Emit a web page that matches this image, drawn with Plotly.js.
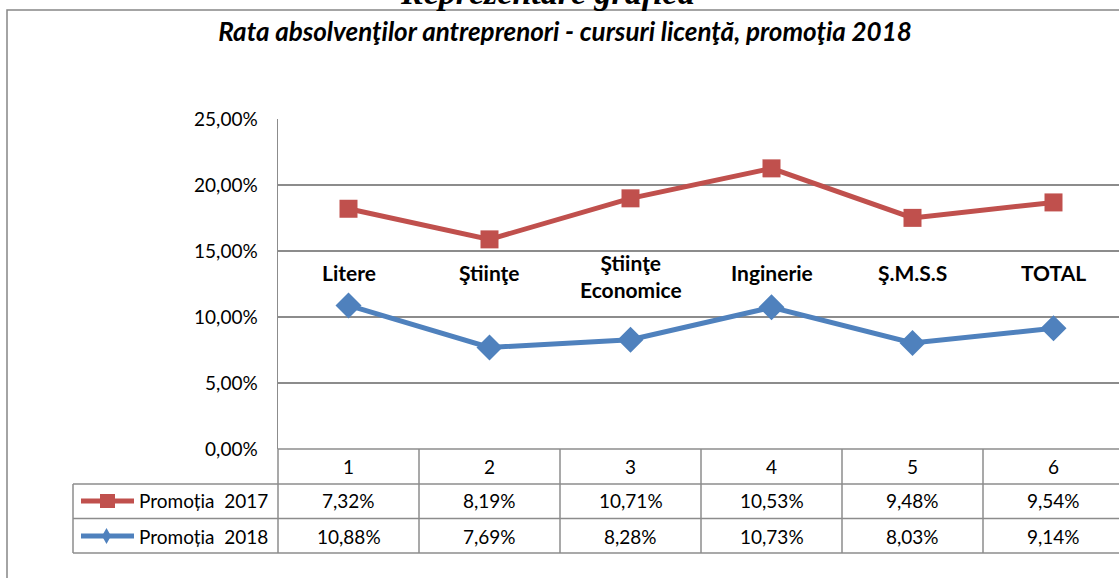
<html lang="ro">
  <head>
    <meta charset="UTF-8" />
    <title>Rata absolventilor antreprenori</title>
    <script src="https://cdn.plot.ly/plotly-3.0.1.min.js"></script>
    <style>
      html, body { margin: 0; padding: 0; overflow: hidden; background: #fff; }
    </style>
  </head>
  <body>
    <div id="chart" style="width: 1126px; height: 578px;"></div>
    <script>
      // data (the line chart is stacked: red = 2018 + 2017)
      const categories = [1, 2, 3, 4, 5, 6];
      const facultati = ['Litere', 'Ştiinţe', 'Ştiinţe<br>Economice', 'Inginerie', 'Ş.M.S.S', 'TOTAL'];
      const promotia2017 = [7.32, 8.19, 10.71, 10.53, 9.48, 9.54];
      const promotia2018 = [10.88, 7.69, 8.28, 10.73, 8.03, 9.14];
      const seriesNames = ['Promoția\u00a0 2017', 'Promoția\u00a0 2018'];
      const yTicks = [0, 5, 10, 15, 20, 25];

      const red = '#C0504D';
      const blue = '#4F81BD';
      const grid = '#8c8c8c';
      const font = 'Lato, "Open Sans", sans-serif';

      // plot area in pixels
      const L = 278, T = 119, W = 846, H = 330;
      const px = x => (x - L) / W;
      const py = y => (T + H - y) / H;

      const fmt = v => v.toFixed(2).replace('.', ',') + '%';

      const traces = [
        {
          x: categories, y: promotia2018, name: seriesNames[1],
          stackgroup: 'one', fill: 'none',
          type: 'scatter', mode: 'lines+markers',
          line: { color: blue, width: 5 },
          marker: { symbol: 'diamond', size: 20, color: blue }
        },
        {
          x: categories, y: promotia2017, name: seriesNames[0],
          stackgroup: 'one', fill: 'none',
          type: 'scatter', mode: 'lines+markers',
          line: { color: red, width: 5 },
          marker: { symbol: 'square', size: 18, color: red }
        }
      ];

      const annotations = [];
      const shapes = [];

      // header cut off at the top
      annotations.push({
        text: '<b><i>Reprezentare grafică</i></b>', xref: 'paper', yref: 'paper',
        x: px(547), y: py(-8), showarrow: false, xanchor: 'center', yanchor: 'middle',
        font: { family: '"Liberation Serif", serif', size: 34, color: '#000' }
      });

      // faculty labels inside the plot
      facultati.forEach((f, i) => {
        annotations.push({
          text: '<b>' + f + '</b>', x: categories[i], y: f.includes('<br>') ? 13.1 : 13.4,
          xref: 'x', yref: 'y',
          showarrow: false, font: { family: font, size: 21, color: '#000' }
        });
      });

      // data table: category row and value rows
      const rowY = [467, 501, 536];
      const cellFont = { family: font, size: 19, color: '#000' };
      categories.forEach((c, i) => {
        annotations.push({ text: String(c), x: c, y: py(rowY[0]), xref: 'x', yref: 'paper',
          yanchor: 'middle', showarrow: false, font: cellFont });
        annotations.push({ text: fmt(promotia2017[i]), x: c, y: py(rowY[1]), xref: 'x', yref: 'paper',
          yanchor: 'middle', showarrow: false, font: cellFont });
        annotations.push({ text: fmt(promotia2018[i]), x: c, y: py(rowY[2]), xref: 'x', yref: 'paper',
          yanchor: 'middle', showarrow: false, font: cellFont });
      });

      // legend keys in the table
      [[seriesNames[0], red, rowY[1]], [seriesNames[1], blue, rowY[2]]].forEach(([name, col, y], k) => {
        annotations.push({ text: name, x: px(137), y: py(y), xref: 'paper', yref: 'paper',
          xanchor: 'left', yanchor: 'middle', showarrow: false, font: cellFont });
        shapes.push({ type: 'line', xref: 'paper', yref: 'paper', x0: px(81), x1: px(134),
          y0: py(y), y1: py(y), line: { color: col, width: 5 } });
        if (k === 0) {
          shapes.push({ type: 'rect', xref: 'paper', yref: 'paper', x0: px(100), x1: px(115),
            y0: py(y - 7), y1: py(y + 7), fillcolor: col, line: { width: 0 } });
        } else {
          shapes.push({ type: 'path', xref: 'paper', yref: 'paper', fillcolor: col, line: { width: 0 },
            path: `M ${px(102)} ${py(y)} L ${px(106.5)} ${py(y - 8)} L ${px(111)} ${py(y)} L ${px(106.5)} ${py(y + 8)} Z` });
        }
      });

      // table grid
      const tl = { color: grid, width: 1.5 };
      shapes.push({ type: 'line', xref: 'paper', yref: 'paper', x0: 0, x1: 1, y0: py(449), y1: py(449), line: tl });
      [484, 518.5, 553].forEach(y => {
        shapes.push({ type: 'line', xref: 'paper', yref: 'paper', x0: px(73), x1: 1, y0: py(y), y1: py(y), line: tl });
      });
      shapes.push({ type: 'line', xref: 'paper', yref: 'paper', x0: px(73), x1: px(73), y0: py(484), y1: py(553), line: tl });
      shapes.push({ type: 'line', xref: 'paper', yref: 'paper', x0: 0, x1: 0, y0: py(449), y1: py(553), line: tl });
      categories.slice(0, -1).forEach(c => {
        shapes.push({ type: 'line', xref: 'x', yref: 'paper', x0: c + 0.5, x1: c + 0.5, y0: py(449), y1: py(553), line: tl });
      });

      // outer chart frame
      shapes.push({ type: 'rect', xref: 'paper', yref: 'paper', x0: px(7), x1: px(1140), y0: py(10), y1: py(620),
        line: { color: '#868686', width: 1.5 } });

      const layout = {
        width: 1126, height: 578,
        margin: { l: L, r: 1126 - L - W, t: T, b: 578 - T - H },
        paper_bgcolor: '#fff', plot_bgcolor: '#fff',
        showlegend: false,
        title: {
          text: '<b><i>Rata absolvenţilor antreprenori - cursuri licenţă, promoţia 2018</i></b>',
          xref: 'container', yref: 'container', x: 565 / 1126, y: 1 - 32 / 578,
          xanchor: 'center', yanchor: 'middle',
          font: { family: font, size: 26, color: '#000' }
        },
        xaxis: {
          range: [0.5, 6.5], showgrid: false, zeroline: false, showline: false,
          showticklabels: false, ticks: '', fixedrange: true
        },
        yaxis: {
          range: [0, 25], tickvals: yTicks, ticktext: yTicks.map(fmt),
          showgrid: true, gridcolor: grid, gridwidth: 1.5, zeroline: false,
          showline: true, linecolor: grid, linewidth: 1.5, ticks: '',
          ticklabelstandoff: 15,
          tickfont: { family: font, size: 19, color: '#000' }, fixedrange: true
        },
        annotations: annotations,
        shapes: shapes
      };

      Plotly.newPlot('chart', traces, layout, { displayModeBar: false, staticPlot: true });
    </script>
  </body>
</html>
